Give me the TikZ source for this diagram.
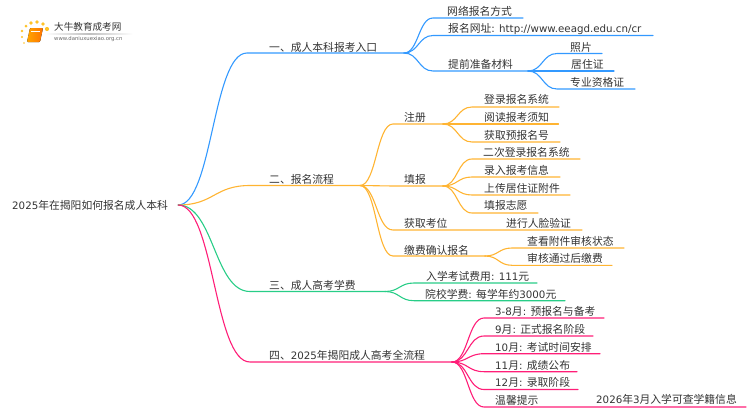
\documentclass[tikz,border=0pt]{standalone}
\usepackage{fontspec}
\setmainfont{Noto Sans CJK SC}
\newfontfamily\lat[Scale=0.95]{DejaVu Sans}
\usetikzlibrary{positioning,calc}
\definecolor{cblue}{RGB}{51,153,255}
\definecolor{corange}{RGB}{255,180,50}
\definecolor{cgreen}{RGB}{40,205,135}
\definecolor{cpink}{RGB}{255,30,120}
\definecolor{ctext}{RGB}{51,51,51}
\tikzset{>=latex}
\tikzset{lbl/.style={anchor=west,inner sep=0pt,text=ctext,font=\fontsize{10.8}{12}\selectfont}}
\tikzset{curve/.style={line width=1.1pt,line cap=round}}
\tikzset{dot/.style={fill=#1,draw=none}}
% colour, name, parent, curve end x, line end x, line y
\newcommand{\bough}[6]{
\coordinate (#2s) at (#4,#6);
\coordinate (#2e) at (#5,#6);
\draw[curve,#1] let \p1=(#3), \p2=(#2s), \n1={(\x2-\x1)/2} in
  (#3) .. controls ([xshift=\n1]#3) and ([xshift=-\n1]#2s) .. (#2s) -- (#2e);
}
\begin{document}
\begin{tikzpicture}[x=1pt,y=-1pt]
\useasboundingbox (0,0) rectangle (750,410);
% logo
\fill[dot=corange!80!yellow] (22,31) circle (1.3) (26,26) circle (1.5) (31,23) circle (1.8) (37,22) circle (1.9)
  (43,24) circle (1.9) (47,29) circle (2.1) (22,37) circle (1.1) (24,43) circle (0.9);
\fill[left color=orange!70!yellow,right color=orange!90!red,rounded corners=1pt]
  (30,28) -- (43,28) -- (40,42) -- (27,42) -- cycle;
\draw[white,line width=0.5pt] (31,31) -- (40,31);
\fill[left color=white,right color=white,middle color=black!25] (45,33) rectangle (133,34);
\node[lbl,font=\fontsize{9.6}{11}\selectfont] (logo) at (54,27) {大牛教育成考网};
\node[lbl,text=black!60,font=\fontsize{5.6}{7}\selectfont] (logourl) at (54,39) {\lat www.daniuxuexiao.org.cn};
% root
\node[lbl] (root) at (12,205) {{\lat 2025}年在揭阳如何报名成人本科};
\coordinate[right=10pt of root] (rootj);
% branch 1
\bough{cblue}{a}{rootj}{247}{404}{53}
\node[lbl] (at) at (269,47) {一、成人本科报考入口};
\bough{cblue}{a1}{ae}{433}{523}{18}
\node[lbl] (a1t) at (447,11) {网络报名方式};
\bough{cblue}{a2}{ae}{433}{653}{35.5}
\node[lbl] (a2t) at (448,29) {报名网址{\lat : http://www.eeagd.edu.cn/cr}};
\bough{cblue}{a3}{ae}{433}{528}{71}
\node[lbl] (a3t) at (448,64) {提前准备材料};
\bough{cblue}{a31}{a3e}{557}{602}{53.5}
\node[lbl] (a31t) at (570,47) {照片};
\bough{cblue}{a32}{a3e}{557}{614}{71}
\node[lbl] (a32t) at (571,64) {居住证};
\bough{cblue}{a33}{a3e}{557}{635}{89}
\node[lbl] (a33t) at (570,82) {专业资格证};
% branch 2
\bough{corange}{b}{rootj}{250}{360}{185.5}
\node[lbl] (bt) at (269,179) {二、报名流程};
\bough{corange}{b1}{be}{393}{443}{124}
\node[lbl] (b1t) at (404,117) {注册};
\bough{corange}{b2}{be}{393}{443}{186}
\node[lbl] (b2t) at (404,179) {填报};
\bough{corange}{b3}{be}{393}{582}{230}
\node[lbl] (b3t) at (404,223) {获取考位};
\node[lbl] (b31t) at (506,223.5) {进行人脸验证};
\bough{corange}{b4}{be}{393}{485}{256}
\node[lbl] (b4t) at (404,250) {缴费确认报名};
\bough{corange}{b11}{b1e}{472}{559}{107}
\node[lbl] (b11t) at (484,99.5) {登录报名系统};
\bough{corange}{b12}{b1e}{472}{558.5}{124}
\node[lbl] (b12t) at (484,117) {阅读报考须知};
\bough{corange}{b13}{b1e}{472}{560}{142}
\node[lbl] (b13t) at (484,135) {获取预报名号};
\bough{corange}{b21}{b2e}{472}{580}{159}
\node[lbl] (b21t) at (483,152) {二次登录报名系统};
\bough{corange}{b22}{b2e}{472}{560}{177}
\node[lbl] (b22t) at (484,170) {录入报考信息};
\bough{corange}{b23}{b2e}{472}{570}{195}
\node[lbl] (b23t) at (484,188) {上传居住证附件};
\bough{corange}{b24}{b2e}{472}{538}{213}
\node[lbl] (b24t) at (484,205.5) {填报志愿};
\bough{corange}{b41}{b4e}{512}{624}{248}
\node[lbl] (b41t) at (527,241) {查看附件审核状态};
\bough{corange}{b42}{b4e}{512}{612}{265.3}
\node[lbl] (b42t) at (527,258) {审核通过后缴费};
% branch 3
\bough{cgreen}{c}{rootj}{250}{385}{291.5}
\node[lbl] (ct) at (269,285) {三、成人高考学费};
\bough{cgreen}{c1}{ce}{414}{537}{283}
\node[lbl] (c1t) at (426,276) {入学考试费用{\lat : 111}元};
\bough{cgreen}{c2}{ce}{414}{565}{300.7}
\node[lbl] (c2t) at (425,294) {院校学费{\lat : }每学年约{\lat 3000}元};
% branch 4
\bough{cpink}{d}{rootj}{250}{452}{362}
\node[lbl] (dt) at (269,355) {四、{\lat 2025}年揭阳成人高考全流程};
\bough{cpink}{d1}{de}{484}{604}{318}
\node[lbl] (d1t) at (495,311) {{\lat 3-8}月{\lat : }预报名与备考};
\bough{cpink}{d2}{de}{484}{593}{336}
\node[lbl] (d2t) at (495,329) {{\lat 9}月{\lat : }正式报名阶段};
\bough{cpink}{d3}{de}{484}{600}{353.7}
\node[lbl] (d3t) at (495,347) {{\lat 10}月{\lat : }考试时间安排};
\bough{cpink}{d4}{de}{484}{577}{371.7}
\node[lbl] (d4t) at (495,365) {{\lat 11}月{\lat : }成绩公布};
\bough{cpink}{d5}{de}{484}{578}{389.5}
\node[lbl] (d5t) at (495,382.5) {{\lat 12}月{\lat : }录取阶段};
\bough{cpink}{d6}{de}{484}{746}{407}
\node[lbl] (d6t) at (495,400) {温馨提示};
\node[lbl] (d61t) at (596,399.5) {{\lat 2026}年{\lat 3}月入学可查学籍信息};
\end{tikzpicture}
\end{document}
